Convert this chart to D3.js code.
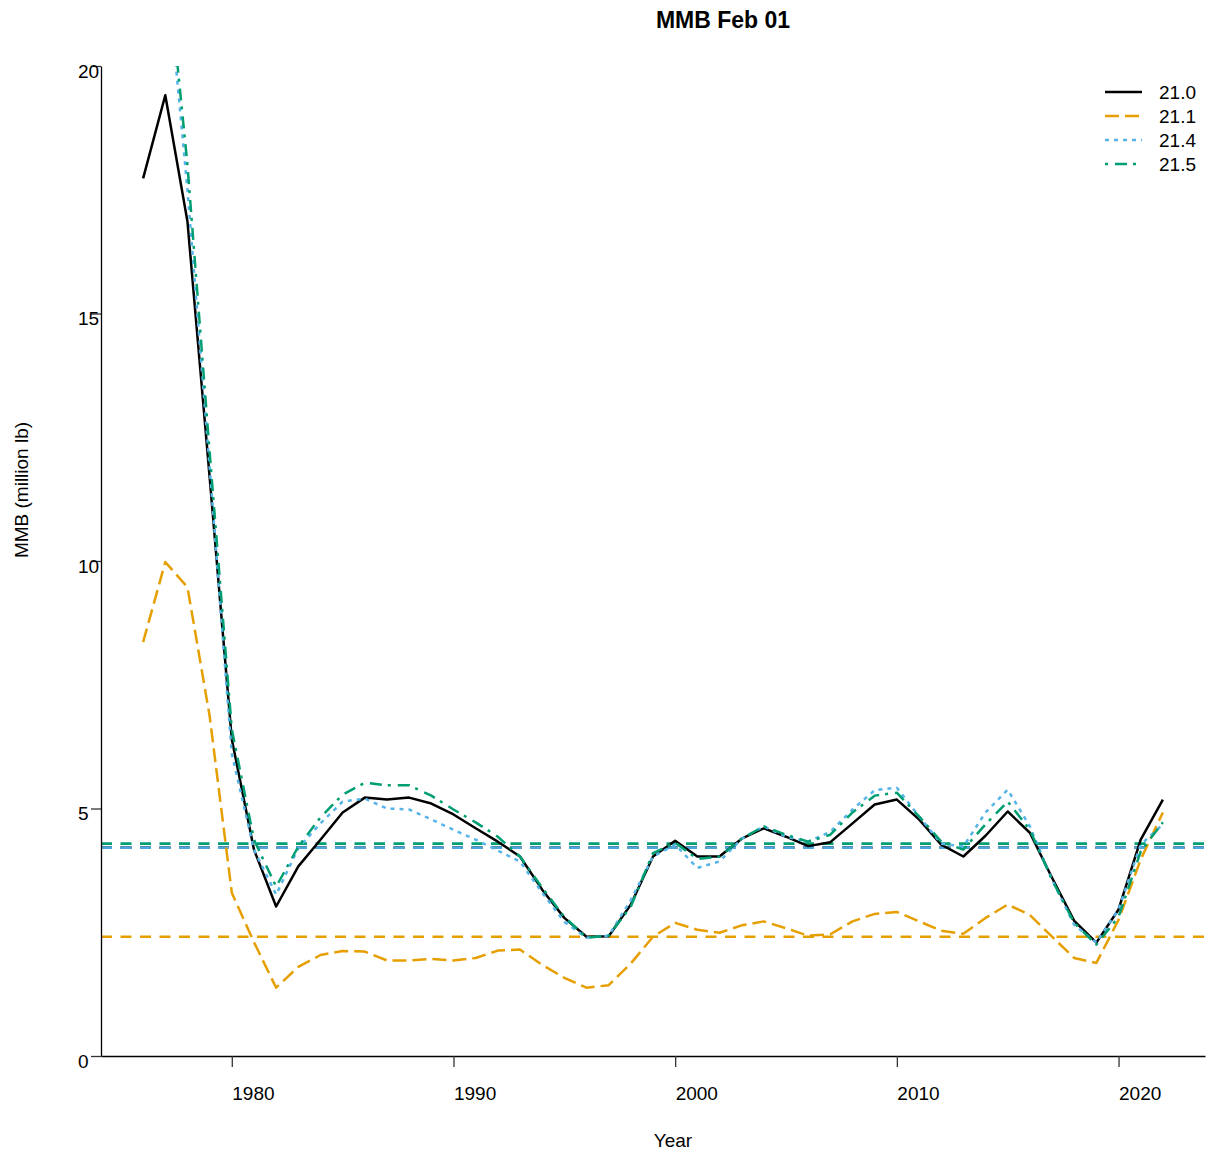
<!DOCTYPE html>
<html lang="en">
<head>
    <meta charset="UTF-8">
    <title>MMB Feb 01</title>
    <script src="https://d3js.org/d3.v7.min.js"></script>
    <style>
        body, html {
            margin: 0;
            padding: 0;
            background: #fff;
        }
        svg text {
            font-family: "Liberation Sans", Arial, sans-serif;
        }
    </style>
</head>
<body>
    <script>
        // Chart values
        const years = [1976, 1977, 1978, 1979, 1980, 1981, 1982, 1983, 1984, 1985,
                       1986, 1987, 1988, 1989, 1990, 1991, 1992, 1993, 1994, 1995,
                       1996, 1997, 1998, 1999, 2000, 2001, 2002, 2003, 2004, 2005,
                       2006, 2007, 2008, 2009, 2010, 2011, 2012, 2013, 2014, 2015,
                       2016, 2017, 2018, 2019, 2020, 2021, 2022];

        const mmb210 = [17.73, 19.41, 16.86, 11.7, 6.4, 4.17, 3.02, 3.83, 4.37, 4.92,
                        5.22, 5.18, 5.22, 5.1, 4.88, 4.6, 4.33, 4.03, 3.36, 2.79,
                        2.41, 2.42, 3.06, 4.03, 4.35, 4.03, 4.03, 4.39, 4.6, 4.43,
                        4.24, 4.32, 4.7, 5.08, 5.18, 4.78, 4.27, 4.03, 4.45, 4.94,
                        4.51, 3.6, 2.73, 2.29, 2.96, 4.37, 5.18];

        const mmb211 = [8.36, 9.98, 9.47, 6.87, 3.3, 2.3, 1.38, 1.8, 2.04, 2.12,
                        2.11, 1.93, 1.93, 1.96, 1.93, 1.98, 2.13, 2.15, 1.84, 1.58,
                        1.38, 1.43, 1.87, 2.41, 2.69, 2.55, 2.49, 2.64, 2.72, 2.58,
                        2.43, 2.46, 2.72, 2.87, 2.91, 2.72, 2.53, 2.47, 2.79, 3.06,
                        2.85, 2.41, 1.98, 1.88, 2.75, 3.97, 4.92];

        const mmb214 = [20.6, 22.3, 17.5, 11.9, 6.1, 4.17, 3.26, 4.2, 4.7, 5.14,
                        5.2, 5.0, 4.98, 4.78, 4.57, 4.37, 4.15, 3.93, 3.3, 2.71,
                        2.39, 2.43, 3.15, 4.03, 4.27, 3.8, 3.93, 4.39, 4.64, 4.43,
                        4.33, 4.53, 4.98, 5.37, 5.42, 4.84, 4.29, 4.23, 4.92, 5.38,
                        4.64, 3.56, 2.65, 2.29, 2.96, 4.27, 4.68];

        const mmb215 = [20.8, 22.5, 18.0, 12.2, 6.6, 4.37, 3.42, 4.23, 4.82, 5.28,
                        5.52, 5.47, 5.47, 5.26, 4.98, 4.72, 4.43, 4.03, 3.4, 2.81,
                        2.39, 2.43, 3.02, 4.1, 4.31, 3.98, 4.03, 4.39, 4.64, 4.47,
                        4.33, 4.47, 4.92, 5.26, 5.32, 4.84, 4.33, 4.17, 4.68, 5.14,
                        4.57, 3.56, 2.69, 2.25, 2.81, 4.13, 4.72];

        const modelNames = ["21.0", "21.1", "21.4", "21.5"];
        const refLevels = [4.21, 2.41, 4.21, 4.29];   // horizontal reference lines
        const xTicks = [1980, 1990, 2000, 2010, 2020];
        const yTicks = [0, 5, 10, 15, 20];

        // Styles per model
        const colors = ["#000000", "#E69F00", "#56B4E9", "#009E73"];
        const dashes = [null, "14,6", "4,5", "3,7,12,6"];

        const width = 1209;
        const height = 1158;
        const margin = {left: 101, right: 4, top: 66, bottom: 102};

        const svg = d3.select("body")
            .append("svg")
            .attr("width", width)
            .attr("height", height);

        const x = d3.scaleLinear()
            .domain([1974.1, 2023.9])
            .range([margin.left, width - margin.right]);

        const y = d3.scaleLinear()
            .domain([0, 20])
            .range([height - margin.bottom, margin.top]);

        // clip to the panel
        svg.append("clipPath").attr("id", "panel")
            .append("rect")
            .attr("x", margin.left)
            .attr("y", margin.top)
            .attr("width", width - margin.right - margin.left)
            .attr("height", height - margin.bottom - margin.top);

        const plot = svg.append("g").attr("clip-path", "url(#panel)");

        // reference lines
        refLevels.forEach((lvl, i) => {
            plot.append("line")
                .attr("x1", x.range()[0])
                .attr("x2", x.range()[1])
                .attr("y1", y(lvl))
                .attr("y2", y(lvl))
                .attr("stroke", i === 2 ? "#4EA6DC" : colors[i])
                .attr("stroke-width", 2.6)
                .attr("stroke-dasharray", "11,8.5");
        });

        // series
        const series = [mmb210, mmb211, mmb214, mmb215];
        const line = d3.line()
            .x((d, i) => x(years[i]))
            .y(d => y(d));

        series.forEach((vals, i) => {
            plot.append("path")
                .datum(vals)
                .attr("d", line)
                .attr("fill", "none")
                .attr("stroke", colors[i])
                .attr("stroke-width", 2.5)
                .attr("stroke-linejoin", "round")
                .attr("stroke-dasharray", dashes[i]);
        });

        // axes
        const xAxis = svg.append("g")
            .attr("transform", `translate(0,${y(0)})`)
            .call(d3.axisBottom(x).tickValues(xTicks).tickFormat(d3.format("d"))
                .tickSize(11).tickSizeOuter(0).tickPadding(20));
        xAxis.selectAll("text")
            .attr("text-anchor", "start")
            .attr("font-size", "19px")
            .attr("fill", "#000");

        const yAxis = svg.append("g")
            .attr("transform", `translate(${margin.left},0)`)
            .call(d3.axisLeft(y).tickValues(yTicks)
                .tickSize(10).tickSizeOuter(0).tickPadding(13));
        yAxis.selectAll("text")
            .attr("text-anchor", "start")
            .attr("dy", "0.58em")
            .attr("font-size", "19px")
            .attr("fill", "#000");

        svg.selectAll(".domain").attr("stroke", "#000").attr("stroke-width", 1.3);
        svg.selectAll(".tick line").attr("stroke", "#333").attr("stroke-width", 1.3);

        // titles
        svg.append("text")
            .attr("x", 723)
            .attr("y", 28)
            .attr("text-anchor", "middle")
            .attr("font-size", "23px")
            .attr("font-weight", "bold")
            .text("MMB Feb 01");

        svg.append("text")
            .attr("x", 673)
            .attr("y", 1147)
            .attr("text-anchor", "middle")
            .attr("font-size", "19px")
            .text("Year");

        svg.append("text")
            .attr("transform", "translate(28,490) rotate(-90)")
            .attr("text-anchor", "middle")
            .attr("font-size", "19px")
            .text("MMB (million lb)");

        // legend
        const legend = svg.append("g");
        modelNames.forEach((name, i) => {
            const ly = 92 + i * 24;
            legend.append("line")
                .attr("x1", 1105)
                .attr("x2", 1142)
                .attr("y1", ly)
                .attr("y2", ly)
                .attr("stroke", colors[i])
                .attr("stroke-width", 2.5)
                .attr("stroke-dasharray", dashes[i]);
            legend.append("text")
                .attr("x", 1159)
                .attr("y", ly)
                .attr("dy", "0.35em")
                .attr("font-size", "19px")
                .text(name);
        });
    </script>
</body>
</html>
